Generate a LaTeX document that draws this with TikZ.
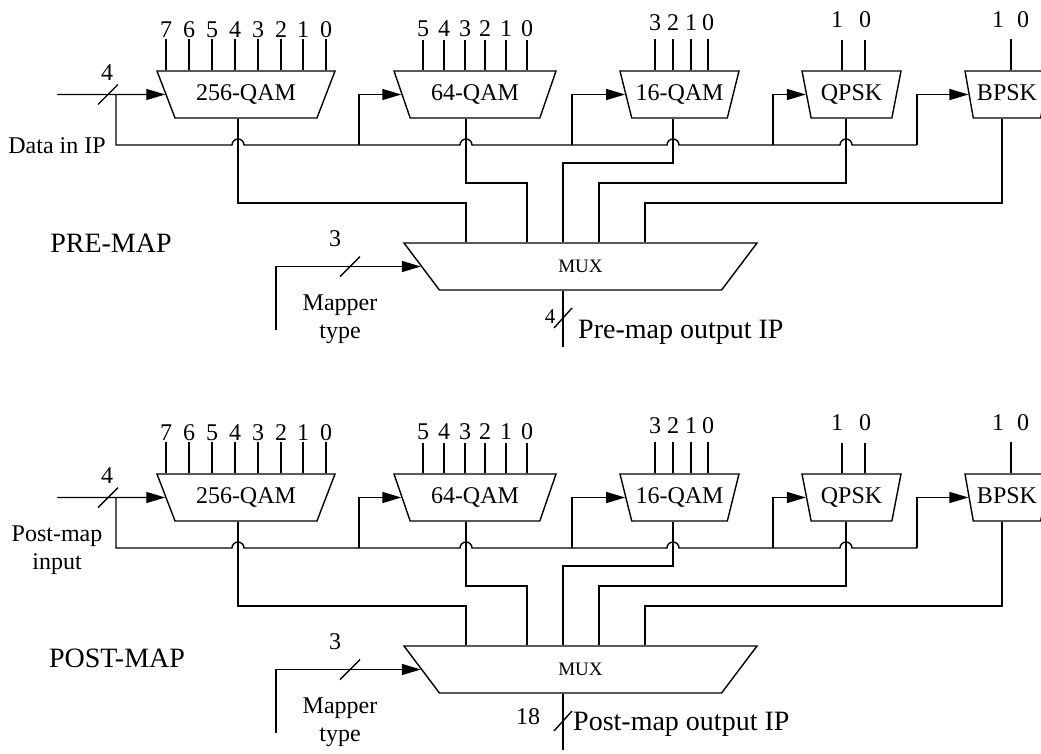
\documentclass[tikz,border=0pt]{standalone}
\usepackage{fontspec}
\setmainfont{Liberation Serif}
\usetikzlibrary{arrows.meta, shapes.geometric, calc}
\tikzset{
  wire/.style={
    line width=1.4pt,
    color=black
  },
  feed/.style={
    wire,
    -{Triangle[length=19pt, width=11pt]}
  },
  mapper/.style={
    trapezium,
    shape border rotate=180,
    trapezium stretches body,
    draw,
    line width=1.4pt,
    text height=17pt,
    text depth=6pt,
    inner ysep=12pt,
    inner xsep=0pt,
    font=\fontsize{24}{28}\selectfont
  },
  mux box/.style={
    mapper,
    font=\fontsize{19}{22}\selectfont
  },
  bit label/.style={
    font=\fontsize{24}{28}\selectfont,
    inner sep=0pt
  },
  side label/.style={
    font=\fontsize{24}{28}\selectfont,
    align=center,
    inner sep=0pt
  },
  big label/.style={
    font=\fontsize{28}{32}\selectfont,
    inner sep=0pt
  }
}

\begin{document}
\begin{tikzpicture}[x=1pt, y=-1pt]
  \useasboundingbox (0,0) rectangle (1041,753);

  % both halves have the same wiring, the lower one 403 further down
  \foreach \yo in {0,403} {
  \begin{scope}[shift={(0,\yo)}]
    % mapper blocks
    \node[mapper, trapezium left angle=69, trapezium right angle=69, minimum width=178pt] (qamA) at (246,94.5) {256-QAM};
    \node[mapper, trapezium left angle=71, trapezium right angle=71, minimum width=162pt] (qamB) at (475,94.5) {64-QAM};
    \node[mapper, trapezium left angle=76, trapezium right angle=76, minimum width=119pt] (qamC) at (679.5,94.5) {16-QAM};
    \node[mapper, trapezium left angle=79, trapezium right angle=79, minimum width=99pt] (qpsk) at (851.5,94.5) {QPSK};
    \node[mapper, trapezium left angle=80, trapezium right angle=80, minimum width=84pt] (bpsk) at (1007,94.5) {BPSK};
    \node[mux box, trapezium left angle=53, trapezium right angle=53, minimum width=353pt] (mux) at (580.5,266.5) {MUX};

    % bit lines on top
    \foreach \x/\b in {166/7,189/6,212/5,235/4,258/3,281/2,303/1,326/0} {
      \coordinate (pA\b) at (\x,39);
      \draw[wire] (pA\b) -- (pA\b |- qamA.north);
      \node[bit label] (bA\b) at (\x,29.5) {\b};
    }
    \foreach \x/\b in {423/5,444/4,465/3,485/2,506/1,527/0} {
      \coordinate (pB\b) at (\x,40);
      \draw[wire] (pB\b) -- (pB\b |- qamB.north);
      \node[bit label] (bB\b) at (\x,28.5) {\b};
    }
    \foreach \x/\b in {655/3,673/2,691/1,708/0} {
      \coordinate (pC\b) at (\x,39);
      \draw[wire] (pC\b) -- (pC\b |- qamC.north);
      \node[bit label] (bC\b) at (\x,23) {\b};
    }
    \foreach \x/\b in {842/1,865/0} {
      \coordinate (pD\b) at (\x,40);
      \draw[wire] (pD\b) -- (pD\b |- qpsk.north);
    }
    \node[bit label] (bD1) at (837,19.5) {1};
    \node[bit label] (bD0) at (865,19.5) {0};
    \coordinate (pE) at (1011,39);
    \draw[wire] (pE) -- (pE |- bpsk.north);
    \node[bit label] (bE1) at (998,19.5) {1};
    \node[bit label] (bE0) at (1023,19.5) {0};

    % input and the bus that feeds every mapper
    \coordinate (inL) at (57,94.5);
    \coordinate (tap) at (116,94.5);
    \coordinate (busL) at (116,145);
    \coordinate (busR) at (917,145);
    \coordinate (oA) at (238,0 |- qamA.south);
    \coordinate (oB) at (466,0 |- qamB.south);
    \coordinate (oC) at (673,0 |- qamC.south);
    \coordinate (oD) at (846,0 |- qpsk.south);
    \coordinate (oE) at (1002,0 |- bpsk.south);
    \draw[feed] (inL) -- (qamA.west);
    \draw[wire] (108,94.5) ++(-10,10) -- ++(20,-20);
    \node[bit label] (nIn) at (107,73) {4};
    \draw[wire] (tap) -- (busL)
      -- ([xshift=-6pt]oA |- busL) arc[start angle=180, end angle=0, radius=6pt]
      -- ([xshift=-6pt]oB |- busL) arc[start angle=180, end angle=0, radius=6pt]
      -- ([xshift=-6pt]oC |- busL) arc[start angle=180, end angle=0, radius=6pt]
      -- ([xshift=-6pt]oD |- busL) arc[start angle=180, end angle=0, radius=6pt]
      -- (busR);
    \coordinate (brB) at (359,145);
    \coordinate (brC) at (572,145);
    \coordinate (brD) at (773,145);
    \draw[feed] (brB) |- (qamB.west);
    \draw[feed] (brC) |- (qamC.west);
    \draw[feed] (brD) |- (qpsk.west);
    \draw[feed] (busR) |- (bpsk.west);

    % mapper outputs into the MUX
    \coordinate (kA) at (466,203);
    \coordinate (kB) at (527,183);
    \coordinate (kC) at (563,163);
    \coordinate (kD) at (599,183);
    \coordinate (kE) at (645,203);
    \draw[wire] (oA) |- (kA) -- (kA |- mux.north);
    \draw[wire] (oB) |- (kB) -- (kB |- mux.north);
    \draw[wire] (oC) |- (kC) -- (kC |- mux.north);
    \draw[wire] (oD) |- (kD) -- (kD |- mux.north);
    \draw[wire] (oE) |- (kE) -- (kE |- mux.north);

    % mapper type select
    \coordinate (selL) at (276,330);
    \draw[feed] (selL) |- (mux.west);
    \draw[wire] (350,266.5) ++(-10,10) -- ++(20,-20);
    \node[bit label] (nSel) at (335,239) {3};
    \node[side label] (mtype) at (340,319.5) {Mapper\\type};

    % MUX output
    \coordinate (outE) at (563,347);
    \draw[wire] (outE |- mux.south) -- (outE);
    \draw[wire] (563,318) ++(-9,10) -- ++(18,-20);
  \end{scope}
  }

  % labels that differ between the halves
  \node[side label] (dataIn) at (57,146) {Data in IP};
  \node[big label] (preMap) at (111,243) {PRE-MAP};
  \node[font=\fontsize{21}{24}\selectfont, inner sep=0pt] (nPre) at (550,317) {4};
  \node[big label, anchor=base west] (preOut) at (578,338) {Pre-map output IP};

  \node[side label] (postIn) at (57,550) {Post-map\\input};
  \node[big label] (postMap) at (117,658) {POST-MAP};
  \node[bit label] (nPost) at (528,717) {18};
  \node[big label, anchor=base west] (postOut) at (573,730) {Post-map output IP};
\end{tikzpicture}
\end{document}
